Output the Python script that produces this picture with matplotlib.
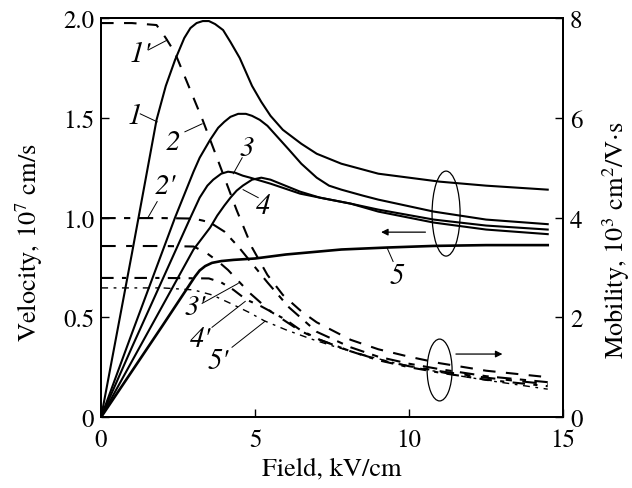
import matplotlib
matplotlib.use('Agg')
import matplotlib.pyplot as plt
from matplotlib.patches import Ellipse

plt.rcParams['font.family'] = ['TeX Gyre Termes', 'FreeSerif', 'STIXGeneral', 'DejaVu Serif']
plt.rcParams['mathtext.fontset'] = 'stix'

# velocity curves (left axis, 10^7 cm/s) vs field (kV/cm)
E1 = [0, 1.0, 1.8, 2.1, 2.4, 2.7, 2.9, 3.1, 3.3, 3.5, 3.7, 3.96, 4.2, 4.5, 4.9, 5.2, 5.5, 5.9, 6.5, 7.0, 7.8, 9.0, 10.0, 11.0, 12.5, 14.5]
v1 = [0, 0.82, 1.49, 1.66, 1.79, 1.90, 1.95, 1.975, 1.985, 1.985, 1.97, 1.94, 1.88, 1.80, 1.66, 1.58, 1.51, 1.44, 1.37, 1.32, 1.27, 1.22, 1.20, 1.18, 1.16, 1.14]

E2 = [0, 1.0, 2.4, 3.0, 3.2, 3.54, 3.8, 4.0, 4.2, 4.45, 4.7, 4.9, 5.15, 5.4, 5.75, 6.1, 6.5, 7.0, 7.4, 7.8, 8.5, 9.0, 10.8, 12.5, 14.5]
v2 = [0, 0.42, 1.0, 1.23, 1.30, 1.39, 1.45, 1.48, 1.505, 1.52, 1.52, 1.51, 1.49, 1.46, 1.40, 1.34, 1.27, 1.20, 1.16, 1.14, 1.11, 1.09, 1.03, 0.99, 0.967]

E3 = [0, 1.0, 2.9, 3.2, 3.45, 3.64, 3.9, 4.12, 4.35, 4.6, 4.84, 5.5, 6.46, 7.1, 8.1, 9.0, 10.8, 12.5, 14.5]
v3 = [0, 0.35, 1.0, 1.10, 1.16, 1.19, 1.22, 1.23, 1.225, 1.21, 1.20, 1.17, 1.12, 1.10, 1.07, 1.04, 0.99, 0.96, 0.94]

E4 = [0, 1.0, 3.0, 3.54, 3.77, 4.0, 4.2, 4.4, 4.6, 4.9, 5.2, 5.5, 5.9, 6.46, 7.1, 8.1, 9.0, 10.8, 12.5, 14.5]
v4 = [0, 0.28, 0.84, 0.95, 1.01, 1.06, 1.10, 1.135, 1.16, 1.19, 1.20, 1.19, 1.165, 1.13, 1.10, 1.07, 1.03, 0.975, 0.94, 0.917]

E5 = [0, 2.0, 3.05, 3.2, 3.38, 3.6, 3.9, 4.3, 5.0, 6.0, 7.8, 9.3, 10.8, 12.5, 14.5]
v5 = [0, 0.46, 0.705, 0.735, 0.757, 0.773, 0.782, 0.788, 0.795, 0.815, 0.84, 0.85, 0.858, 0.862, 0.862]

# mobility curves (right axis, 10^3 cm^2/V s)
M1E = [0, 1.0, 1.8, 2.1, 2.4, 2.7, 3.0, 3.3, 3.7, 4.4, 4.9, 5.4, 5.9, 6.5, 7.0, 8.1, 9.0, 10.0, 11.0, 12.5, 14.5]
m1 = [7.9, 7.9, 7.86, 7.6, 7.3, 6.85, 6.4, 5.95, 5.3, 4.15, 3.4, 2.85, 2.45, 2.12, 1.9, 1.55, 1.36, 1.21, 1.08, 0.93, 0.80]

M2E = [0, 2.0, 3.0, 3.3, 3.54, 4.0, 4.45, 4.9, 5.4, 6.1, 7.0, 8.1, 9.0, 10.0, 11.0, 12.5, 14.5]
m2 = [3.99, 3.99, 3.98, 3.94, 3.9, 3.72, 3.42, 3.08, 2.7, 2.2, 1.71, 1.4, 1.21, 1.07, 0.96, 0.82, 0.70]

M3E = [0, 2.0, 3.0, 3.4, 3.8, 4.12, 4.5, 4.84, 5.5, 6.46, 7.1, 8.1, 9.0, 10.0, 11.0, 12.5, 14.5]
m3 = [3.43, 3.43, 3.42, 3.3, 3.12, 2.95, 2.7, 2.48, 2.12, 1.73, 1.55, 1.32, 1.15, 1.02, 0.92, 0.79, 0.66]

M4E = [0, 2.0, 3.5, 3.9, 4.3, 4.7, 5.2, 5.5, 6.0, 6.46, 7.1, 8.1, 9.0, 10.0, 11.0, 12.5, 14.5]
m4 = [2.79, 2.79, 2.78, 2.7, 2.55, 2.36, 2.22, 2.12, 1.95, 1.75, 1.55, 1.32, 1.14, 1.0, 0.89, 0.75, 0.62]

M5E = [0, 2.0, 3.0, 3.6, 4.2, 4.8, 5.3, 6.0, 6.8, 7.5, 8.5, 9.5, 10.5, 11.5, 12.5, 14.5]
m5 = [2.59, 2.59, 2.55, 2.45, 2.28, 2.1, 1.93, 1.75, 1.57, 1.43, 1.25, 1.09, 0.96, 0.84, 0.74, 0.56]

fig = plt.figure(figsize=(6.32, 4.89), dpi=100)
ax = fig.add_axes([0.160, 0.145, 0.731, 0.816])
ax2 = ax.twinx()

lw = 1.5
for E, v in [(E1, v1), (E2, v2), (E3, v3), (E4, v4)]:
    ax.plot(E, v, color='black', lw=lw, solid_joinstyle='round')
ax.plot(E5, v5, color='black', lw=1.9, solid_joinstyle='round')

ax2.plot(M1E, m1, color='black', lw=1.5, dashes=(6, 5))
ax2.plot(M2E, m2, color='black', lw=1.5, dashes=(7, 4, 3, 4))
ax2.plot(M3E, m3, color='black', lw=1.5, dashes=(7, 5, 3, 5))
ax2.plot(M4E, m4, color='black', lw=1.5, dashes=(6, 4, 2, 4))
ax2.plot(M5E, m5, color='black', lw=1.0, dashes=(5, 4, 2, 4))

ax.set_xlim(0, 15)
ax.set_ylim(0, 2.0)
ax2.set_ylim(0, 8)

ax.set_xticks([0, 5, 10, 15])
ax.set_xticklabels(['0', '5', '10', '15'])
ax.set_yticks([0, 0.5, 1.0, 1.5, 2.0])
ax.set_yticklabels(['0', '0.5', '1.0', '1.5', '2.0'])
ax2.set_yticks([0, 2, 4, 6, 8])

for a in (ax, ax2):
    a.tick_params(direction='in', length=6, width=1.0, labelsize=18, pad=5)
    for s in a.spines.values():
        s.set_linewidth(1.4)
ax.tick_params(axis='x', pad=8)

ax.set_xlabel('Field, kV/cm', fontsize=19, labelpad=3)
ax.set_ylabel('Velocity, 10$^{7}$ cm/s', fontsize=19)
ax2.set_ylabel('Mobility, 10$^{3}$ cm$^{2}$/V$\\cdot$s', fontsize=19)
ax.yaxis.set_label_coords(-0.122, 0.44)
ax2.yaxis.set_label_coords(1.08, 0.445)

# curve labels with leader lines (velocity-axis coordinates)
labels = [
    ("1'", (1.27, 1.82), (1.53, 1.84), (2.15, 1.89)),
    ('1', (1.08, 1.51), (1.27, 1.52), (1.82, 1.48)),
    ('2', (2.34, 1.38), (2.72, 1.43), (3.28, 1.47)),
    ("2'", (2.08, 1.16), (1.82, 1.08), (1.52, 1.0)),
    ('3', (4.74, 1.35), (4.58, 1.30), (4.29, 1.22)),
    ('4', (5.26, 1.06), (5.10, 1.10), (4.61, 1.14)),
    ("3'", (3.05, 0.55), (3.28, 0.57), (4.45, 0.67)),
    ("4'", (3.22, 0.39), (3.60, 0.45), (4.68, 0.58)),
    ("5'", (3.80, 0.28), (4.25, 0.35), (5.32, 0.48)),
    ('5', (9.6, 0.71), (9.48, 0.78), (9.28, 0.85)),
]
for txt, tpos, p0, p1 in labels:
    ax.text(tpos[0], tpos[1], txt, fontsize=21, style='italic', ha='center', va='center')
    ax.plot([p0[0], p1[0]], [p0[1], p1[1]], color='black', lw=0.7)

# ellipses and arrows marking the axis for each group
ax.add_patch(Ellipse((11.2, 1.02), 0.91, 0.426, fill=False, lw=0.9, color='black'))
ax.add_patch(Ellipse((10.99, 0.236), 0.81, 0.31, fill=False, lw=0.9, color='black'))
ax.annotate('', xy=(9.0, 0.927), xytext=(10.62, 0.927),
            arrowprops=dict(arrowstyle='-|>', color='black', lw=0.9, mutation_scale=10))
ax.annotate('', xy=(13.12, 0.316), xytext=(11.43, 0.316),
            arrowprops=dict(arrowstyle='-|>', color='black', lw=0.9, mutation_scale=10))

fig.savefig('out.png', dpi=100)
